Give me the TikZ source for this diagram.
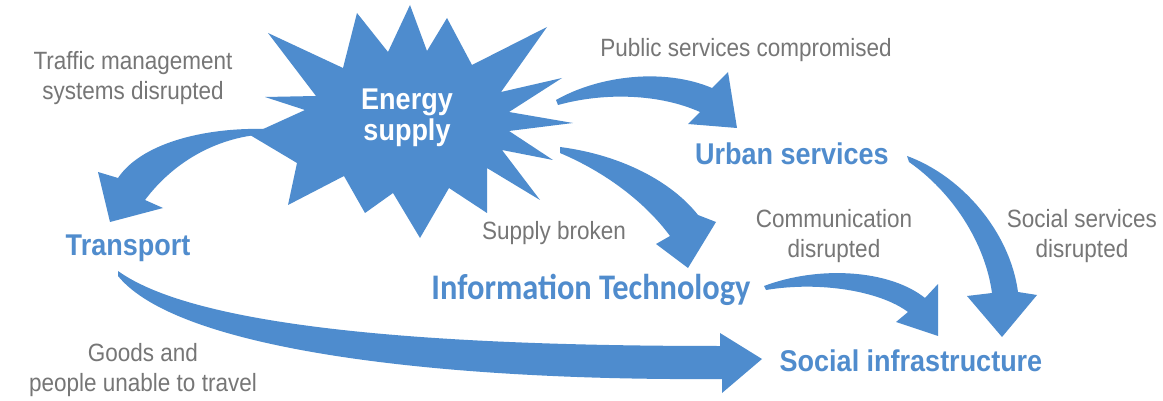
\documentclass[tikz,border=0pt]{standalone}
\usepackage{fontspec}
\newfontfamily\labelfont[FakeStretch=0.9]{Liberation Sans}
\newfontfamily\calfont[FakeStretch=0.9]{Carlito}
\definecolor{burst}{RGB}{78,140,206}
\definecolor{nodeblue}{RGB}{80,140,205}
\definecolor{notegray}{RGB}{118,118,118}

\tikzset{
  flow/.style={fill=burst, draw=none},
  note/.style={text=notegray, font=\labelfont\fontsize{25}{30}\selectfont,
    align=center, anchor=base, inner sep=0pt},
  sector/.style={text=nodeblue, font=\labelfont\bfseries\fontsize{30}{32}\selectfont,
    anchor=base, inner sep=0pt},
}

\begin{document}
\begin{tikzpicture}[x=1pt,y=-1pt]
\useasboundingbox (0,0) rectangle (1163,401);
\fill[white] (0,0) rectangle (1163,401);

% tapered flow arrows
% energy -> transport
\fill[flow] (268,129) .. controls (200,127) and (140,145) .. (118,178)
  -- (98,172) -- (110,222) -- (163,208) -- (145,200)
  .. controls (175,160) and (220,136) .. (268,134) -- cycle;
% energy -> urban services
\fill[flow] (556,100) .. controls (600,75) and (665,68) .. (712,88)
  -- (728,72) -- (737,128) -- (688,124) -- (700,112)
  .. controls (660,94) and (605,92) .. (558,105) -- cycle;
% energy -> information technology
\fill[flow] (560,147) .. controls (622,155) and (672,182) .. (698,215)
  -- (716,222) -- (688,268) -- (656,244) -- (670,236)
  .. controls (645,202) and (605,172) .. (560,153) -- cycle;
% transport -> social infrastructure
\fill[flow] (118,271) .. controls (200,330) and (450,346) .. (720,346)
  -- (720,333) -- (762,359) -- (722,393) -- (722,379)
  .. controls (450,381) and (180,352) .. (118,276) -- cycle;
% information technology -> social infrastructure
\fill[flow] (764,286) .. controls (820,265) and (890,270) .. (925,298)
  -- (938,284) -- (938,336) -- (896,322) -- (908,312)
  .. controls (880,291) and (820,281) .. (766,290) -- cycle;
% urban services -> social infrastructure
\fill[flow] (907,156) .. controls (962,176) and (1010,232) .. (1018,292)
  -- (1037,295) -- (1002,337) -- (967,296) -- (992,293)
  .. controls (985,242) and (952,192) .. (909,162) -- cycle;

% the energy starburst
\fill[burst] (410,5) -- (427,51) -- (447,18) -- (472,65) -- (547,27)
  -- (501,92) -- (562,78) -- (509,112) -- (573,123) -- (509,131)
  -- (553,160) -- (502,150) -- (540,200) -- (487,168) -- (487,213)
  -- (449,188) -- (420,238) -- (393,193) -- (365,213) -- (344,176)
  -- (288,205) -- (297,163) -- (250,135) -- (305,110) -- (265,97)
  -- (316,96) -- (268,33) -- (343,68) -- (357,13) -- (388,52) -- cycle;

\node[align=center, anchor=base, inner sep=0pt, text=white,
  font=\labelfont\bfseries\fontsize{30}{31}\selectfont] (energy) at (407,141) {Energy\\supply};

% sector labels
\node[sector] (transport) at (128,255) {Transport};
\node[sector] (urban) at (792,165) {Urban services};
\node[sector, font=\calfont\bfseries\fontsize{36}{36}\selectfont] (it) at (591,299) {Information Technology};
\node[sector] (social) at (911,371) {Social infrastructure};

% effect notes
\node[note] (traffic) at (133,100) {Traffic management\\systems disrupted};
\node[note] (public) at (746,57) {Public services compromised};
\node[note] (broken) at (554,240) {Supply broken};
\node[note] (comm) at (834,258) {Communication\\disrupted};
\node[note] (socserv) at (1082,258) {Social services\\disrupted};
\node[note] (goods) at (143,391) {Goods and\\people unable to travel};
\end{tikzpicture}
\end{document}
